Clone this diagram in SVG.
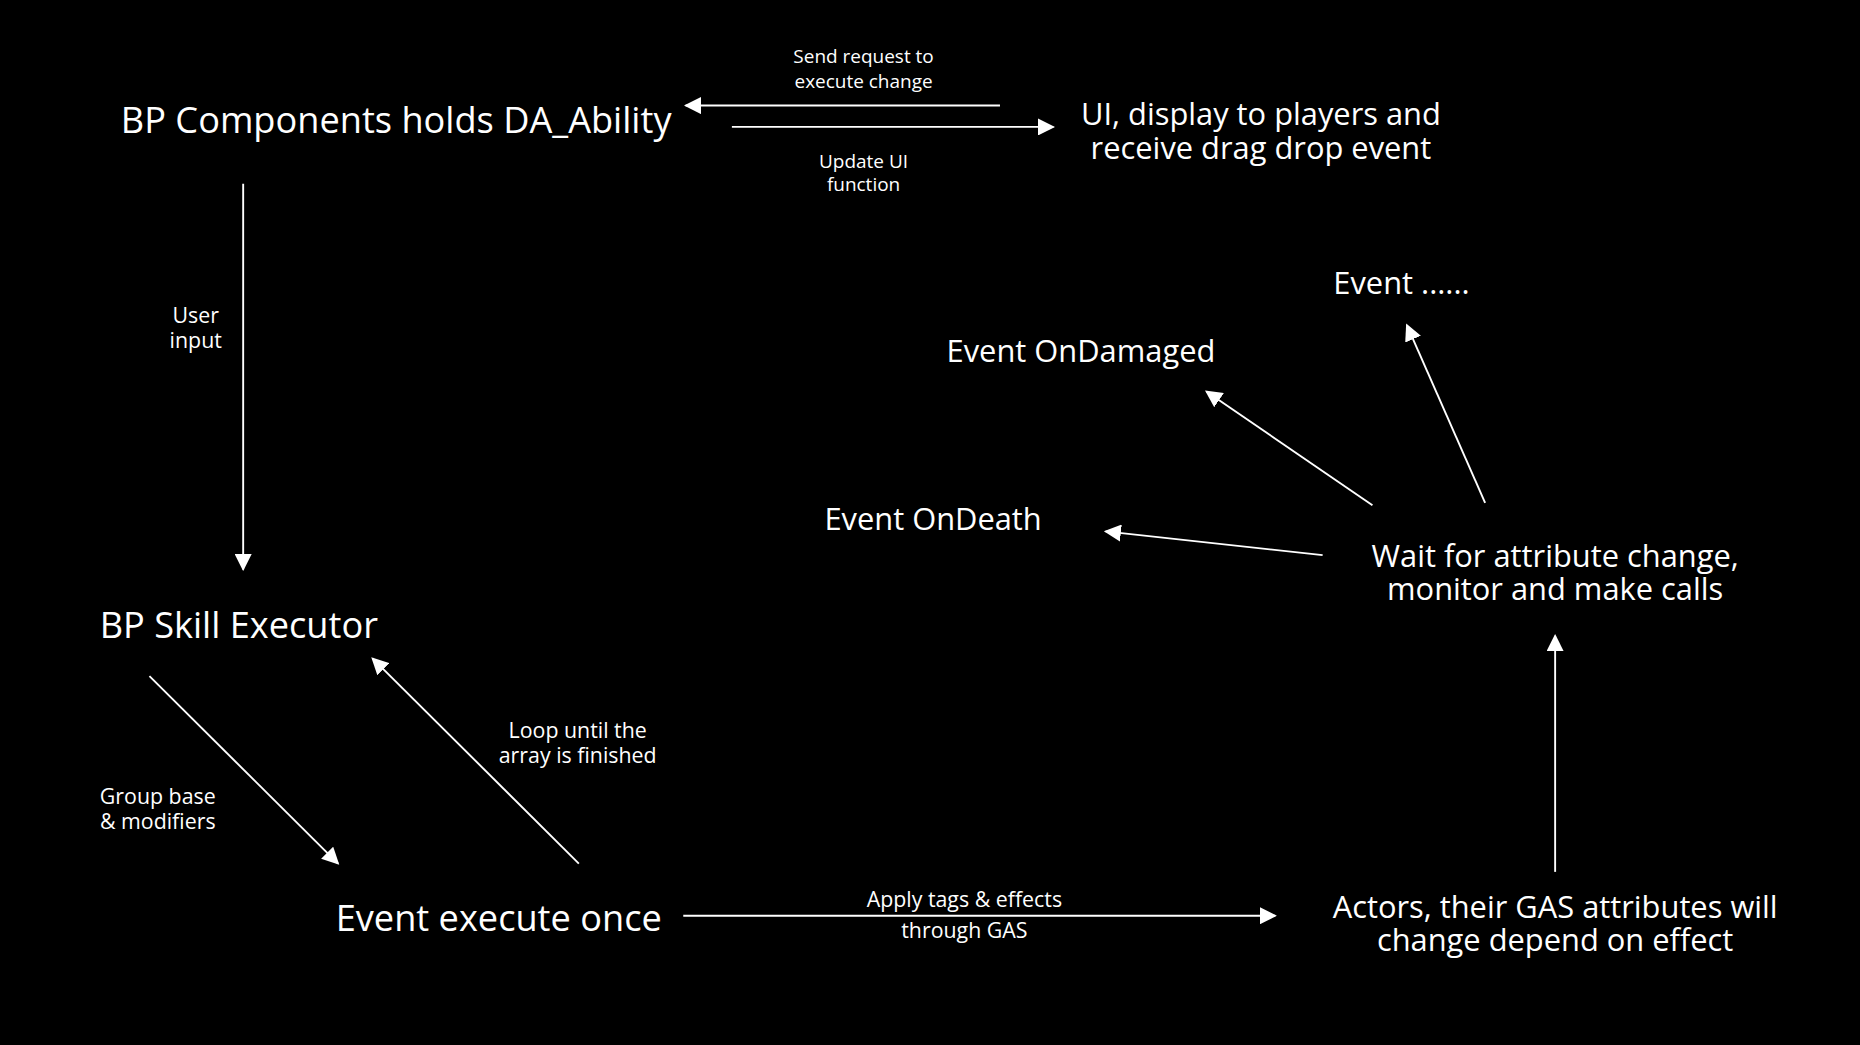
<svg xmlns="http://www.w3.org/2000/svg" width="1860" height="1045" viewBox="0 0 1860 1045">
<style>
text{fill:#fff;font-family:"Open Sans","Noto Sans","DejaVu Sans",sans-serif}
.big{font-size:30.5px}.mid{font-size:26px}.sm{font-size:16px}.lb{font-size:18px}
.c{text-anchor:middle}
line{stroke:#fff;stroke-width:1.6}
</style>
<defs><marker id="ah2" viewBox="0 0 10 10" refX="9" refY="5" markerWidth="9" markerHeight="9" orient="auto"><path d="M0,0L10,5L0,10z" fill="#fff"/></marker></defs>
<rect width="1860" height="1045" fill="#000"/>
<g transform="scale(1.18622)">
<g id="bp-components"><text class="big c" x="334" y="112">BP Components holds DA_Ability</text></g>
<g id="ui"><text class="mid c" x="1063" y="105">UI, display to players and</text><text class="mid c" x="1063" y="134">receive drag drop event</text></g>
<g id="skill-executor"><text class="big" x="84" y="538">BP Skill Executor</text></g>
<g id="execute-once"><text class="big" x="283" y="785">Event execute once</text></g>
<g id="actors"><text class="mid c" x="1311" y="774">Actors, their GAS attributes will</text><text class="mid c" x="1311" y="802">change depend on effect</text></g>
<g id="wait"><text class="mid c" x="1311" y="478">Wait for attribute change,</text><text class="mid c" x="1311" y="506">monitor and make calls</text></g>
<g id="ondeath"><text class="mid" x="695" y="447">Event OnDeath</text></g>
<g id="ondamaged"><text class="mid" x="798" y="305">Event OnDamaged</text></g>
<g id="event-more"><text class="mid" x="1124" y="248">Event ......</text></g>
<g id="connectors">
<line x1="843" y1="89" x2="578" y2="89" marker-end="url(#ah2)"/>
<line x1="617" y1="107" x2="888" y2="107" marker-end="url(#ah2)"/>
<line x1="205" y1="155" x2="205" y2="480" marker-end="url(#ah2)"/>
<line x1="126" y1="570" x2="285" y2="728" marker-end="url(#ah2)"/>
<line x1="488" y1="728" x2="314" y2="555" marker-end="url(#ah2)"/>
<line x1="576" y1="772" x2="1075" y2="772" marker-end="url(#ah2)"/>
<line x1="1311" y1="735" x2="1311" y2="536" marker-end="url(#ah2)"/>
<line x1="1115" y1="468" x2="932" y2="448" marker-end="url(#ah2)"/>
<line x1="1157" y1="426" x2="1017" y2="330" marker-end="url(#ah2)"/>
<line x1="1252" y1="424" x2="1186" y2="274" marker-end="url(#ah2)"/>
<text class="sm c" x="728" y="53">Send request to</text><text class="sm c" x="728" y="74">execute change</text>
<text class="sm c" x="728" y="142">Update UI</text><text class="sm c" x="728" y="161">function</text>
<text class="lb c" x="165" y="272">User</text><text class="lb c" x="165" y="293">input</text>
<text class="lb c" x="133" y="678">Group base</text><text class="lb c" x="133" y="699">&amp; modifiers</text>
<text class="lb c" x="487" y="622">Loop until the</text><text class="lb c" x="487" y="643">array is finished</text>
<text class="lb c" x="813" y="765">Apply tags &amp; effects</text><text class="lb c" x="813" y="791">through GAS</text>
</g>
</g>
</svg>
